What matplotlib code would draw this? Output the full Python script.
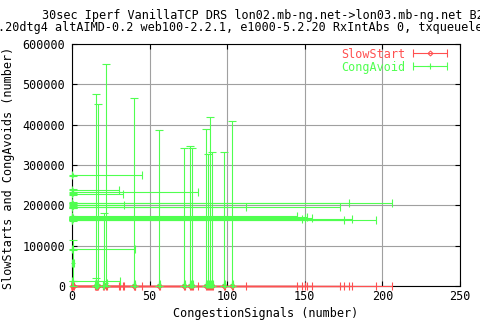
import numpy as np
import matplotlib
matplotlib.use('Agg')
import matplotlib.pyplot as plt
from matplotlib.legend_handler import HandlerErrorbar

title1 = '30sec Iperf VanillaTCP DRS lon02.mb-ng.net->lon03.mb-ng.net B2B'
title2 = '.20dtg4 altAIMD-0.2 web100-2.2.1, e1000-5.2.20 RxIntAbs 0, txqueuelen 2000'

# one entry per test: CongestionSignals mean / min / max
sig_mean = [15.3, 16.5, 22.1, 20.3, 40.2, 56.1, 72.4, 76.2, 77.5, 86.5, 87.8, 89.1,
            90.4, 98.1, 103.3, 15.5, 0.8,
            0.6, 0.6, 0.6, 0.6, 0.6, 0.6, 0.6, 0.6, 0.6, 0.6, 0.6, 0.6, 0.6,
            0.6, 0.6, 0.6, 0.6, 0.6, 0.6]
sig_min = [15.0, 16.2, 21.7, 20.0, 40.0, 55.8, 72.1, 75.9, 77.2, 86.2, 87.5, 88.8,
           90.1, 97.8, 103.0, 15.2, 0.3,
           0, 0, 0, 0, 0, 0, 0, 0, 0, 0, 0, 0, 0,
           0, 0, 0, 0, 0, 0]
sig_max = [15.6, 16.9, 22.4, 20.7, 40.5, 56.5, 72.7, 76.5, 77.8, 86.8, 88.1, 89.4,
           90.8, 98.4, 103.6, 15.8, 1.3,
           44.9, 30.5, 81.0, 33.0, 178.7, 206.4, 33.7, 112.3, 172.9, 145.2, 151.2,
           154.4, 150.0, 148.0, 175.3, 180.6, 196.1, 40.4, 31.1]

# SlowStarts per test
ss_mean = [0] * 36

# CongAvoids mean / min / max
ca_mean = [6000, 5000, 7000, 3000, 6000, 5000, 4000, 4000, 4000, 5000,
           4000, 5000, 4000, 4000, 5000, 3000, 56000,
           274700, 239000, 232000, 227000, 207000, 205000, 200000, 195500, 195000,
           173000, 171000, 169000, 167500, 166000, 164500, 165500, 163500, 90800, 12400]
ca_min = [0, 0, 0, 0, 0, 0, 0, 0, 0, 0, 0, 0, 0, 0, 0, 0, 0,
          273500, 237800, 230800, 225800, 205800, 203800, 198800, 194300, 193800,
          171800, 169800, 167800, 166300, 164800, 163300, 164300, 162300, 89600, 11200]
ca_max = [477000, 452000, 551000, 182000, 467000, 388000, 341000, 346000, 343000,
          390000, 328000, 418000, 333000, 331000, 410000, 20500, 113000,
          275900, 240200, 233200, 228200, 208200, 206200, 201200, 196700, 196200,
          174200, 172200, 170200, 168700, 167200, 165700, 166700, 164700, 92000, 13600]

xticks = [0, 50, 100, 150, 200, 250]
yticks = [0, 100000, 200000, 300000, 400000, 500000, 600000]

red = '#ff5050'
green = '#50ff50'


def main():
    plt.rcParams['font.family'] = 'DejaVu Sans Mono'
    plt.rcParams['font.size'] = 8.5

    fig = plt.figure(figsize=(4.8, 3.2), dpi=100)
    ax = fig.add_axes([72 / 480, 34 / 320, 388 / 480, 242 / 320])

    x = np.array(sig_mean)
    xerr = [x - np.array(sig_min), np.array(sig_max) - x]
    y = np.array(ca_mean)
    yerr = [y - np.array(ca_min), np.array(ca_max) - y]

    eb1 = ax.errorbar(x, ss_mean, xerr=xerr, fmt='D', color=red, ecolor=red,
                      ms=2.5, mfc='none', mew=0.8, elinewidth=0.8, capsize=3,
                      capthick=0.8, zorder=3)
    eb2 = ax.errorbar(x, y, xerr=xerr, yerr=yerr, fmt='+', color=green, ecolor=green,
                      ms=3, mew=0.8, elinewidth=0.8, capsize=3, capthick=0.8, zorder=4)
    for eb in (eb1, eb2):
        for a in eb.get_children():
            a.set_clip_on(False)

    # legend proxies (horizontal bar only, like gnuplot)
    h1 = ax.errorbar([np.nan], [np.nan], xerr=[[1], [1]], fmt='D', color=red,
                     ms=2.5, mfc='none', mew=0.8, elinewidth=0.8, capsize=3,
                     capthick=0.8, label='SlowStart')
    h2 = ax.errorbar([np.nan], [np.nan], xerr=[[1], [1]], fmt='+', color=green,
                     ms=4, mew=0.8, elinewidth=0.8, capsize=3, capthick=0.8,
                     label='CongAvoid')

    ax.set_xlim(0, 250)
    ax.set_ylim(0, 600000)
    ax.set_xticks(xticks, [str(t) for t in xticks])
    ax.set_yticks(yticks, [str(t) for t in yticks])
    ax.tick_params(direction='in', top=True, right=True, length=3.6, width=0.8)
    ax.tick_params(axis='x', pad=3)
    ax.tick_params(axis='y', pad=5)
    ax.grid(True, color='#a0a0a0', lw=0.8)
    ax.set_axisbelow(True)
    for s in ax.spines.values():
        s.set_linewidth(0.8)

    leg = ax.legend(handles=[h1, h2], loc='upper right',
                    bbox_to_anchor=(447 / 480, 1 - 47.5 / 320),
                    bbox_transform=fig.transFigure, frameon=False,
                    markerfirst=False, handlelength=2.9, handletextpad=0.6,
                    borderpad=0, borderaxespad=0, labelspacing=0,
                    handler_map={type(h1): HandlerErrorbar(xerr_size=1.45, numpoints=1)})
    for t, c in zip(leg.get_texts(), [red, green]):
        t.set_color(c)

    ax.set_xlabel('CongestionSignals (number)')
    ax.xaxis.set_label_coords(265.5 / 480, 1 - 313.7 / 320, transform=fig.transFigure)
    ax.xaxis.label.set_va('center')
    ax.set_ylabel('SlowStarts and CongAvoids (number)')
    ax.yaxis.set_label_coords(9 / 480, 1 - 168 / 320, transform=fig.transFigure)
    ax.yaxis.label.set_va('center')

    # title is wider than the picture in the original too
    fig.text(41.9 / 480, 1 - 15.7 / 320, title1, ha='left', va='center')
    fig.text(-2.5 / 480, 1 - 27.7 / 320, title2, ha='left', va='center')

    fig.savefig('out.png', dpi=100)


if __name__ == "__main__":
    main()
